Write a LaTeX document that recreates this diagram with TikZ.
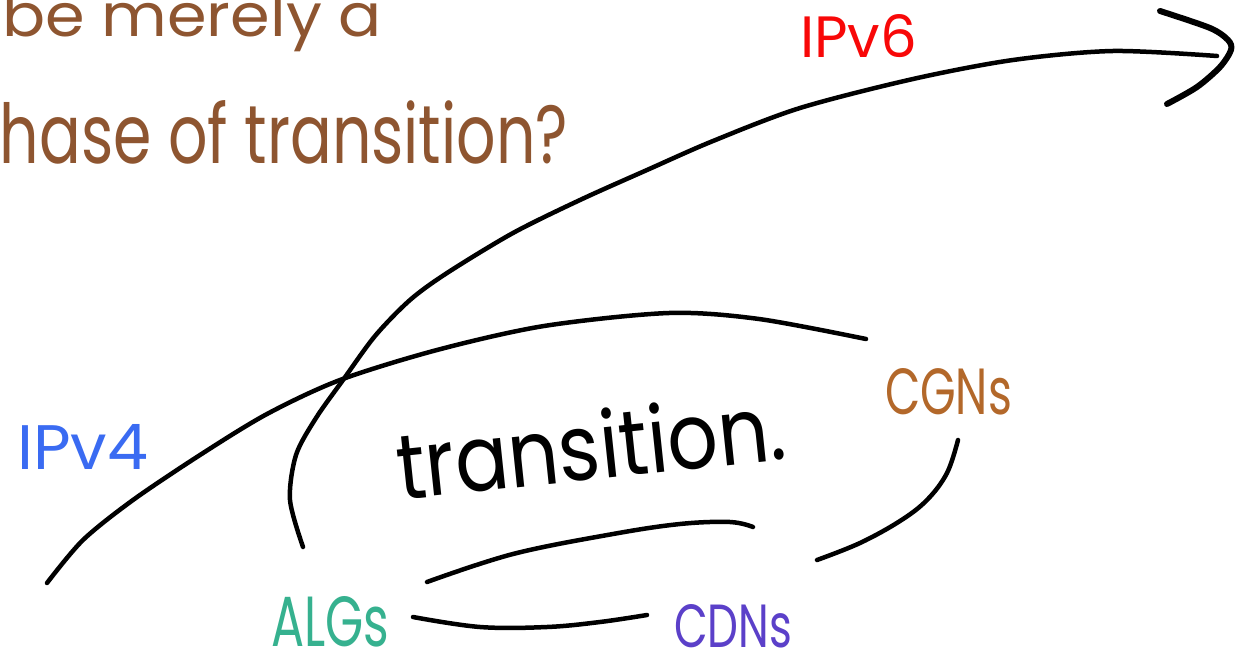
\documentclass[tikz,border=0pt]{standalone}
\usepackage{fontspec}
\usepackage{graphicx}
\setmainfont{Poppins}
\definecolor{qbrown}{HTML}{8E5530}
\definecolor{vsix}{HTML}{F80808}
\definecolor{vfour}{HTML}{3A6BF2}
\definecolor{algc}{HTML}{36B18F}
\definecolor{cdnc}{HTML}{5B40C9}
\definecolor{cgnc}{HTML}{B3682A}
\begin{document}
\begin{tikzpicture}[x=1pt,y=-1pt,
  ink/.style={line width=4.5pt, line cap=round, line join=round, draw=black},
  head/.style={line width=6pt, line cap=round, line join=round, draw=black},
  txt/.style={inner sep=0pt, outer sep=0pt, anchor=base west}]
\useasboundingbox (0,0) rectangle (1238,652);
\fill[white] (0,0) rectangle (1238,652);
\clip (0,0) rectangle (1238,652);
% question text
\node[txt, text=qbrown] (q1) at (2,37) {\resizebox{380pt}{44pt}{be merely a}};
\node[txt, text=qbrown] (q2) at (0,164) {\resizebox{568pt}{63pt}{hase of transition?}};
% labels
\node[txt, text=vsix] (v6) at (800,58) {\resizebox{117pt}{43pt}{IPv6}};
\node[txt, text=vfour] (v4) at (17,469) {\resizebox{131pt}{45pt}{IPv4}};
\node[txt, text=algc] (alg) at (271,646) {\resizebox{118pt}{50pt}{ALGs}};
\node[txt, text=cdnc] (cdn) at (674,647) {\resizebox{118pt}{43pt}{CDNs}};
\node[txt, text=cgnc] (cgn) at (885,414) {\resizebox{127pt}{46pt}{CGNs}};
\node[txt, rotate=6] (tr) at (400,500) {\resizebox{390pt}{70pt}{transition.}};
% coordinates
\coordinate (v6s) at (303,547);
\coordinate (v6e) at (1217,56);
\coordinate (v4s) at (47,583);
\coordinate (v4e) at (866,339);
\coordinate (ras) at (958,440);
\coordinate (rae) at (817,560);
\coordinate (mcs) at (427,582);
\coordinate (mce) at (753,527);
\coordinate (bcs) at (413,617);
\coordinate (bce) at (647,615);
\coordinate (hda) at (1160,11);
\coordinate (hdt) at (1231,50);
\coordinate (hdb) at (1167,104);
% IPv6 arrow
\draw[ink] plot[smooth, tension=0.5] coordinates {(v6s) (290,500) (296,455) (316,418) (343,380) (375,336) (410,300) (447,273) (513,233) (580,200) (647,170) (713,141) (800,108) (913,79) (1013,60) (1113,51) (v6e)};
\draw[head] plot[smooth, tension=0.5] coordinates {(hda) (1210,28) (1228,40) (hdt) (1220,67) (1197,87) (hdb)};
% IPv4 curve
\draw[ink] plot[smooth, tension=0.5] coordinates {(v4s) (83,540) (133,500) (200,455) (267,414) (340,380) (437,350) (544,326) (669,313) (759,319) (v4e)};
% right arc
\draw[ink] plot[smooth, tension=0.6] coordinates {(ras) (947,473) (927,500) (900,521) (860,543) (rae)};
% middle curve
\draw[ink] plot[smooth, tension=0.6] coordinates {(mcs) (513,554) (613,534) (680,524) (730,522) (mce)};
% bottom curve
\draw[ink] plot[smooth, tension=0.6] coordinates {(bcs) (480,627) (547,627) (600,622) (bce)};
\end{tikzpicture}
\end{document}
